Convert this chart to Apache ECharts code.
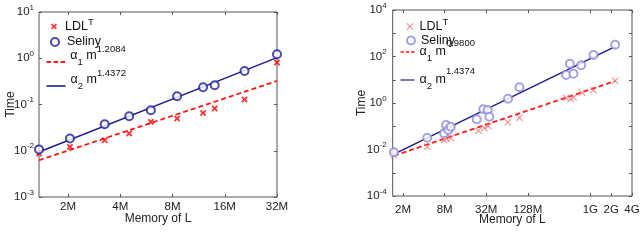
<!DOCTYPE html>
<html><head><meta charset="utf-8">
<script src="https://cdn.jsdelivr.net/npm/echarts@6/dist/echarts.min.js"></script>
<style>html,body{margin:0;padding:0;background:#fff;}#c1,#c2{position:absolute;top:0;width:320px;height:242px;}#c1{left:0}#c2{left:320px}</style>
</head><body><div id="c1"></div><div id="c2"></div>
<script>
// ---------- Left panel data (memory in MB, time in s) ----------
const leftSelX = [1.36, 2.05, 3.25, 4.5, 6.0, 8.5, 12, 14, 20.8, 32];
const leftSelY = [0.0107, 0.0184, 0.0374, 0.0557, 0.075, 0.151, 0.236, 0.26, 0.53, 1.22];
const leftLdlX = [1.36, 2.05, 3.25, 4.5, 6.0, 8.5, 12, 14, 20.8, 32];
const leftLdlY = [0.0087, 0.0121, 0.0169, 0.0236, 0.042, 0.0497, 0.0657, 0.0817, 0.128, 0.807];
const leftFitX = [1.36, 32];
const leftFit1Y = [0.00623, 0.323];
const leftFit2Y = [0.0094, 1.03];
const leftXTickValues = [2, 4, 8, 16, 32];
const leftXTickLabels = ['2M', '4M', '8M', '16M', '32M'];
const leftYTickExps = [-3, -2, -1, 0, 1];
const leftExp1 = '1.2084';
const leftExp2 = '1.4372';

// ---------- Right panel data ----------
const rightSelX = [1.48, 4.49, 7.85, 8.38, 9.06, 9.8, 23.3, 29, 33.6, 35.5, 66, 96.5, 458, 517, 583, 754, 1136, 2336];
const rightSelY = [0.0076, 0.032, 0.0498, 0.113, 0.069, 0.0957, 0.199, 0.536, 0.5, 0.257, 1.53, 4.73, 16, 49, 18.2, 41.9, 116, 322];
const rightLdlX = [1.48, 4.49, 7.85, 8.58, 9.8, 24.6, 30, 34.3, 65.5, 96.5, 458, 531, 587, 777, 1136, 2336];
const rightLdlY = [0.0058, 0.0132, 0.0256, 0.0292, 0.0313, 0.0645, 0.0816, 0.1025, 0.148, 0.233, 1.64, 1.51, 1.72, 2.77, 3.52, 9.0];
const rightFitX = [1.48, 2336];
const rightFit1Y = [0.0054, 8.8];
const rightFit2Y = [0.0063, 264];
const rightXTickValues = [2, 8, 32, 128, 1024, 2048, 4096];
const rightXTickLabels = ['2M', '8M', '32M', '128M', '1G', '2G', '4G'];
const rightYTickExps = [-4, -2, 0, 2, 4];
const rightExp1 = '0.9800';
const rightExp2 = '1.4374';

const FONT = 'Liberation Sans, Arial, sans-serif';
const xPath = 'path://M0,2L2,0L5,3L8,0L10,2L7,5L10,8L8,10L5,7L2,10L0,8L3,5Z';
const xPathThin = 'path://M0,1L1,0L5,4L9,0L10,1L6,5L10,9L9,10L5,6L1,10L0,9L4,5Z';

// memory axis is base-2 logarithmic: positions are log2(MB) on a linear axis
const lg2 = Math.log2;
function pairs(xs, ys) { return xs.map((x, i) => [lg2(x), ys[i]]); }
function xFormatter(vals, labels) {
  return function (v) {
    for (let i = 0; i < vals.length; i++) {
      if (Math.abs(v - lg2(vals[i])) < 1e-6) return labels[i];
    }
    return '';
  };
}
function yFormatterFor(exps) {
  return function (v) {
    const e = Math.round(Math.log10(v));
    if (exps.indexOf(e) < 0) return '';
    return '{b|10}{e|' + e + '}';
  };
}
const yRich = {
  b: { fontSize: 11.5, fontFamily: FONT, color: '#222' },
  e: { fontSize: 8, fontFamily: FONT, color: '#222', padding: [0, 0, 9, 0] }
};

function makeOption(cfg) {
  const legRich = cfg.legRich;
  const mkLegend = (item, left, top, w, h, fmt) => ({
    data: [item], left: left, top: top, padding: 0, itemWidth: w, itemHeight: h,
    selectedMode: false, formatter: () => fmt,
    textStyle: { fontFamily: FONT, fontSize: 12.5, color: '#111', rich: legRich }
  });
  const dashIcon = 'path://M0,0h4.6v2h-4.6zM7,0h4.6v2h-4.6zM14,0h4.6v2h-4.6z';
  const solidIcon = 'path://M0,0h19v1.6h-19z';
  const tickPos = cfg.xTickValues.map(lg2);
  const axisCommonX = {
    type: 'value', min: lg2(cfg.xMin), max: lg2(cfg.xMax),
    axisLine: { show: false }, splitLine: { show: false },
    axisTick: { show: true, inside: true, length: 3, lineStyle: { color: '#555' }, customValues: tickPos }
  };
  const axisCommonY = {
    type: 'log', logBase: 10, min: cfg.yMin, max: cfg.yMax,
    axisLine: { show: false }, splitLine: { show: false },
    axisTick: { show: true, inside: true, length: 3, lineStyle: { color: '#555' } }
  };
  return {
    animation: false,
    grid: { left: cfg.grid[0], right: cfg.grid[1], top: cfg.grid[2], bottom: cfg.grid[3],
            outerBoundsMode: 'none', containLabel: false,
            show: true, borderColor: '#555', borderWidth: 1, backgroundColor: '#fff' },
    legend: [
      mkLegend('LDL', cfg.leg[0][0], cfg.leg[0][1], cfg.leg[0][2], cfg.leg[0][3], '{m|LDL}{t|T}'),
      mkLegend('Seliny', cfg.leg[1][0], cfg.leg[1][1], cfg.leg[1][2], cfg.leg[1][3], '{m|Seliny}'),
      mkLegend({ name: 'fit1', icon: dashIcon }, cfg.leg[2][0], cfg.leg[2][1], cfg.leg[2][2], cfg.leg[2][3], '{a|α}{sub|1}{a| m}{sup|' + cfg.exp1 + '}'),
      mkLegend({ name: 'fit2', icon: solidIcon }, cfg.leg[3][0], cfg.leg[3][1], cfg.leg[3][2], cfg.leg[3][3], '{a|α}{sub|2}{a| m}{sup|' + cfg.exp2 + '}')
    ],
    xAxis: [
      Object.assign({}, axisCommonX, {
        position: 'bottom',
        axisLabel: { customValues: tickPos, margin: cfg.xLabelMargin, fontSize: 11.5, fontFamily: FONT, color: '#222',
                     formatter: xFormatter(cfg.xTickValues, cfg.xTickLabels) },
        name: 'Memory of L', nameLocation: 'middle', nameGap: cfg.xNameGap, nameMoveOverlap: false,
        nameTextStyle: { fontSize: 12, fontFamily: FONT, color: '#222' }
      }),
      Object.assign({}, axisCommonX, { position: 'top', axisLabel: { show: false } })
    ],
    yAxis: [
      Object.assign({}, axisCommonY, {
        position: 'left',
        axisLabel: { margin: cfg.yLabelMargin, formatter: yFormatterFor(cfg.yExps), rich: yRich },
        name: 'Time', nameLocation: 'middle', nameGap: cfg.yNameGap, nameMoveOverlap: false,
        nameTextStyle: { fontSize: 12, fontFamily: FONT, color: '#222' }
      }),
      Object.assign({}, axisCommonY, { position: 'right', axisLabel: { show: false } })
    ],
    series: [
      { name: 'fit1', type: 'line', symbol: 'none', data: pairs(cfg.fitX, cfg.fit1Y),
        lineStyle: { color: '#ff1a1a', width: 1.8, type: [5, 3] }, itemStyle: { color: '#ff1a1a' }, z: 2 },
      { name: 'fit2', type: 'line', symbol: 'none', data: pairs(cfg.fitX, cfg.fit2Y),
        lineStyle: { color: '#1e1e8c', width: 1.5 }, itemStyle: { color: '#1e1e8c' }, z: 2 },
      { name: 'LDL', type: 'scatter', symbol: cfg.xSym, symbolSize: cfg.xSize, data: pairs(cfg.ldlX, cfg.ldlY),
        itemStyle: { color: cfg.xColor }, z: 3 },
      { name: 'Seliny', type: 'scatter', symbol: 'emptyCircle', symbolSize: cfg.cSize, data: pairs(cfg.selX, cfg.selY),
        itemStyle: { color: cfg.cColor, borderColor: cfg.cColor, borderWidth: cfg.cWidth }, z: 4 }
    ]
  };
}

const richLeft = {
  m: { fontSize: 12.5, fontFamily: FONT, color: '#111', padding: [0, 0, 0, 3] },
  t: { fontSize: 9.5, fontFamily: FONT, color: '#111', padding: [0, 0, 9, 0] },
  a: { fontSize: 12.5, fontFamily: FONT, color: '#111', padding: [0, 0, 12, 0] },
  sub: { fontSize: 9.5, fontFamily: FONT, color: '#111' },
  sup: { fontSize: 9.5, fontFamily: FONT, color: '#111', padding: [0, 0, 25, 0] }
};
const richRight = {
  m: { fontSize: 12.5, fontFamily: FONT, color: '#111', padding: [0, 0, 0, 1] },
  t: { fontSize: 9.5, fontFamily: FONT, color: '#111', padding: [0, 0, 9, 0] },
  a: { fontSize: 12.5, fontFamily: FONT, color: '#111' },
  sub: { fontSize: 9.5, fontFamily: FONT, color: '#111', padding: [12, 0, 0, 0] },
  sup: { fontSize: 9.5, fontFamily: FONT, color: '#111', padding: [0, 0, 18, 0] }
};

const c1 = echarts.init(document.getElementById('c1'), null, { renderer: 'canvas' });
c1.setOption(makeOption({
  grid: [39, 43, 12, 45], xMin: 1.36, xMax: 32, yMin: 0.001, yMax: 10, yExps: leftYTickExps,
  xTickValues: leftXTickValues, xTickLabels: leftXTickLabels,
  xLabelMargin: 4, xNameGap: 16, yLabelMargin: 5, yNameGap: 22,
  fitX: leftFitX, fit1Y: leftFit1Y, fit2Y: leftFit2Y,
  ldlX: leftLdlX, ldlY: leftLdlY, selX: leftSelX, selY: leftSelY,
  xSym: xPath, xSize: 6.5, xColor: '#ff0000', cSize: 8, cColor: '#1e1e9a', cWidth: 1.2,
  exp1: leftExp1, exp2: leftExp2,
  leg: [[51, 17, 6, 6], [50, 35.5, 8, 8], [46.5, 44.5, 19, 2], [46.5, 68.5, 19, 1.6]],
  legRich: richLeft
}));

const c2 = echarts.init(document.getElementById('c2'), null, { renderer: 'canvas' });
c2.setOption(makeOption({
  grid: [72.7, 8, 10, 46], xMin: 1.42, xMax: 4096, yMin: 0.0001, yMax: 10000, yExps: rightYTickExps,
  xTickValues: rightXTickValues, xTickLabels: rightXTickLabels,
  xLabelMargin: 8, xNameGap: 18, yLabelMargin: 6, yNameGap: 25,
  fitX: rightFitX, fit1Y: rightFit1Y, fit2Y: rightFit2Y,
  ldlX: rightLdlX, ldlY: rightLdlY, selX: rightSelX, selY: rightSelY,
  xSym: xPathThin, xSize: 7, xColor: '#f06a6a', cSize: 8, cColor: '#8c8cdc', cWidth: 0.8,
  exp1: rightExp1, exp2: rightExp2,
  leg: [[86.5, 17, 7, 7], [86, 34, 8, 8], [80.5, 38, 14, 2], [80.5, 66, 14, 1.6]],
  legRich: richRight
}));
</script></body></html>
